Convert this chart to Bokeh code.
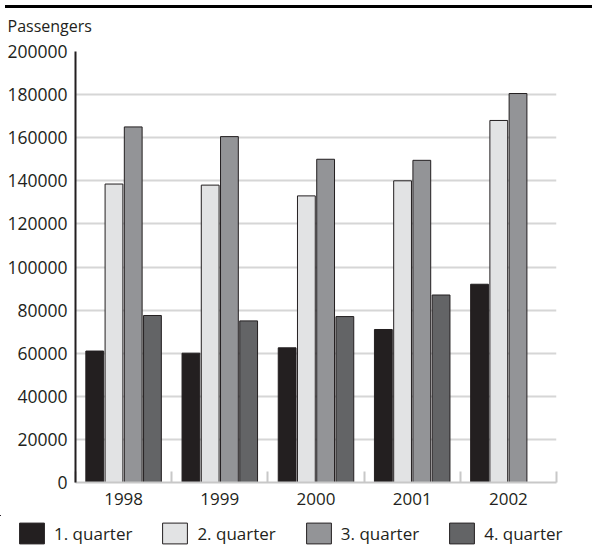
import numpy as np
from bokeh.plotting import figure
from bokeh.models import (Range1d, LinearAxis, FixedTicker, Label,
                          NumeralTickFormatter, Legend, LegendItem, Div, ColumnDataSource)
from bokeh.layouts import column
from bokeh.transform import dodge
from bokeh.embed import file_html
from bokeh.resources import INLINE

years = ["1998", "1999", "2000", "2001", "2002"]
quarters = ["1. quarter", "2. quarter", "3. quarter", "4. quarter"]
q1 = [61000, 60000, 62500, 71000, 92000]
q2 = [138500, 138000, 133000, 140000, 168000]
q3 = [165000, 160500, 150000, 149500, 180500]
q4 = [77500, 75000, 77000, 87000, float("nan")]
y_ticks = list(range(0, 200001, 20000))
y_title = "Passengers"

colors = ["#231f20", "#e2e3e4", "#939497", "#636466"]
offsets = [-0.3, -0.1, 0.1, 0.3]
keys = ["q1", "q2", "q3", "q4"]
TXT = "#231f20"
FONT = "Open Sans"
W = 587

n = len(years)
centers = (np.arange(n) + 0.5).tolist()
bounds = list(range(n + 1))
src = ColumnDataSource(dict(xc=centers, q1=q1, q2=q2, q3=q3, q4=q4))


def bare(fig):
    fig.xgrid.visible = False
    fig.ygrid.visible = False
    fig.frame_align = False
    return fig


# ---- header: title text ----
p0 = bare(figure(width=W, height=23, x_range=Range1d(0, W), y_range=Range1d(0, 23),
                 output_backend="svg", toolbar_location=None,
                 x_axis_location=None, y_axis_location=None,
                 min_border=0, outline_line_color=None))
p0.add_layout(Label(x=7, y=11, text=y_title, text_font=FONT, text_font_size="16px",
                    text_color=TXT, text_align="left", text_baseline="middle"))

# ---- main chart ----
p = figure(x_range=Range1d(0, n), y_range=Range1d(0, 200000),
           width=W, height=479, output_backend="svg", toolbar_location=None,
           x_axis_location=None, y_axis_location="left",
           min_border_left=75, min_border_right=31, min_border_top=15, min_border_bottom=33,
           outline_line_color=None)
p.frame_align = False

xax = LinearAxis(ticker=FixedTicker(ticks=centers, minor_ticks=bounds),
                 major_label_overrides={c: y for c, y in zip(centers, years)},
                 major_tick_line_color=None,
                 minor_tick_in=11, minor_tick_out=0,
                 minor_tick_line_color="#c8c8c8", minor_tick_line_width=2,
                 axis_line_color="#c8c8c8", axis_line_width=2,
                 major_label_text_font=FONT, major_label_text_font_size="17px",
                 major_label_text_color=TXT, major_label_standoff=4)
p.add_layout(xax, "below")

yax = p.yaxis[0]
yax.ticker = FixedTicker(ticks=y_ticks)
yax.formatter = NumeralTickFormatter(format="0")
yax.axis_line_color = TXT
yax.axis_line_width = 2
yax.major_tick_line_color = None
yax.major_tick_in = 0
yax.major_tick_out = 0
yax.minor_tick_line_color = None
yax.major_label_text_font = FONT
yax.major_label_text_font_size = "17.5px"
yax.major_label_text_color = TXT
yax.major_label_standoff = 8

p.xgrid.visible = False
p.ygrid.ticker = FixedTicker(ticks=y_ticks)
p.ygrid.grid_line_color = "#d6d6d6"
p.ygrid.grid_line_width = 2

for k, c, off in zip(keys, colors, offsets):
    p.vbar(x=dodge("xc", off), top=k, width=0.185, source=src,
           fill_color=c, line_color="#231f20", line_width=1)

# ---- legend strip (its renderers lie outside its own view) ----
p2 = bare(figure(width=W, height=31, x_range=Range1d(100, 101), y_range=Range1d(-2, -1),
                 output_backend="svg", toolbar_location=None,
                 x_axis_location=None, y_axis_location=None,
                 min_border=0, outline_line_color=None))
items = []
for q, k, c, off in zip(quarters, keys, colors, offsets):
    r = p2.vbar(x=dodge("xc", off), top=k, width=0.185, source=src,
                fill_color=c, line_color="#231f20", line_width=1)
    items.append(LegendItem(label=q, renderers=[r]))
legend = Legend(items=items, location=(16, 0), orientation="horizontal",
                glyph_width=31, glyph_height=26, label_standoff=7, spacing=27,
                padding=0, margin=0, border_line_color=None, background_fill_alpha=0,
                label_text_font=FONT, label_text_font_size="17px", label_text_color=TXT)
p2.add_layout(legend)

rule = Div(text="", width=W, height=3, styles={"background-color": "#000000"})
layout = column(rule, p0, p, p2)

open("out.html", "w").write(file_html(layout, INLINE))
